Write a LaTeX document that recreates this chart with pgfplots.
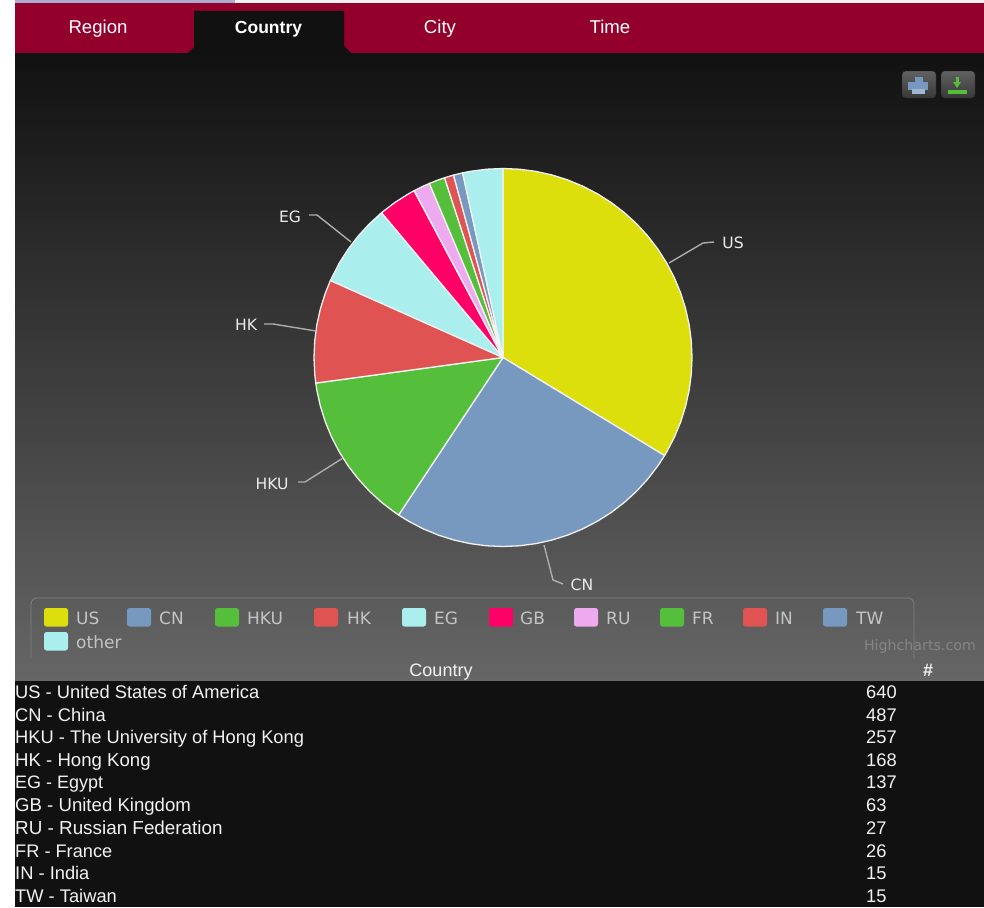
\documentclass[border=0pt]{standalone}
\usepackage{fontspec}
\setmainfont{Liberation Sans}
\newfontfamily\hc{DejaVu Sans}
\usepackage{pgfplots}
\usepackage{pgfplotstable}
\pgfplotsset{compat=1.18}
\definecolor{cUS}{HTML}{DDDF0D}
\definecolor{cCN}{HTML}{7798BF}
\definecolor{cGR}{HTML}{55BF3B}
\definecolor{cRD}{HTML}{DF5353}
\definecolor{cCY}{HTML}{AAEEEE}
\definecolor{cGB}{HTML}{FF0066}
\definecolor{cRU}{HTML}{EEAAEE}
\definecolor{band}{HTML}{92002B}
\definecolor{ink}{HTML}{111111}
\definecolor{gradtop}{HTML}{111111}
\definecolor{gradbot}{HTML}{666666}
\definecolor{legtxt}{HTML}{C4C4C4}
\definecolor{wline}{HTML}{F2F2F2}
\tikzset{lab/.style={inner sep=0pt,text=black!8,font=\hc\fontsize{15.6}{17}\selectfont}}
\pgfplotsset{
  slice/.style={data cs=polar,fill=#1,draw=wline,line width=1.3pt,line join=round},
  lead/.style={draw=black!32,line width=1.4pt,line join=round},
}
\newcommand{\tabtxt}[3]{\node[anchor=base,text=white,inner sep=0pt] at (#1,34) {\fontsize{#3}{20}\selectfont #2};}
\newcommand{\row}[5]{\node[anchor=base west,text=wline,inner sep=0pt] at (15,#1) {\fontsize{#5}{20}\selectfont #2 - #3};
  \node[anchor=base west,text=wline,inner sep=0pt] at (866,#1) {\fontsize{18.3}{20}\selectfont #4};}
\newcommand{\leg}[6]{\fill[#1,rounded corners=2.5pt] (#2,#3) rectangle (#2+24,#3+18.5);
  \node[anchor=base west,text=legtxt,inner sep=0pt] at (#4,#3+16) {\hc\fontsize{17}{18}\selectfont #5};}
\begin{document}
\begin{tikzpicture}
\useasboundingbox (0pt,0pt) rectangle (984pt,-907pt);
\begin{scope}[x=1pt,y=-1pt]
  % top strip
  \fill[white] (0,0) rectangle (984,907);
  \fill[black!5] (235,0) rectangle (984,3);
  \fill[blue!30!gray!50] (15,0) rectangle (235,3);
  % tabs
  \fill[band] (15,3) rectangle (984,54);
  \shade[top color=gradtop,bottom color=gradbot] (15,54) rectangle (984,681);
  \fill[ink] (194,11) -- (344,11) -- (344,46) -- (352,54) -- (187,54) -- (194,47) -- cycle;
  \tabtxt{98}{Region}{18.6}
  \tabtxt{268.5}{\bfseries Country}{17.5}
  \tabtxt{440}{City}{18.6}
  \tabtxt{610}{Time}{18.6}
  % export buttons
  \shade[top color=black!62,bottom color=black!78,rounded corners=3.5pt,draw=black!85] (902,71) rectangle (936,98);
  \shade[top color=black!62,bottom color=black!78,rounded corners=3.5pt,draw=black!85] (941,71) rectangle (975,98);
  \fill[cCN] (915,77) rectangle (923,83);
  \fill[cCN] (908,82) rectangle (928,90);
  \fill[cCN!70!white] (912,89) rectangle (925,94);
  \fill[cGR] (948,90) rectangle (967,94);
  \fill[cGR] (955.5,77) rectangle (958.5,83);
  \fill[cGR] (953,82) -- (961,82) -- (957,88) -- cycle;
  % legend
  \draw[black!50,rounded corners=6pt,line width=0.8pt] (31,658) -- (31,598) -- (914,598) -- (914,658);
  \leg{cUS}{44}{608}{76}{US}{}
  \leg{cCN}{127}{608}{159}{CN}{}
  \leg{cGR}{215}{608}{247}{HKU}{}
  \leg{cRD}{314}{608}{347}{HK}{}
  \leg{cCY}{402}{608}{434}{EG}{}
  \leg{cGB}{489}{608}{520}{GB}{}
  \leg{cRU}{574}{608}{606}{RU}{}
  \leg{cGR}{660}{608}{692}{FR}{}
  \leg{cRD}{743}{608}{775}{IN}{}
  \leg{cCN}{823}{608}{856}{TW}{}
  \leg{cCY}{44}{632}{76}{other}{}
  \node[anchor=base east,text=black!48,inner sep=0pt] at (976,650) {\hc\fontsize{14.2}{15}\selectfont Highcharts.com};
  % table
  \fill[ink] (15,681) rectangle (984,907);
  \node[anchor=base,text=wline,inner sep=0pt] at (441,676) {\fontsize{18}{20}\selectfont Country};
  \node[anchor=base,text=wline,inner sep=0pt] at (928,676) {\fontsize{18}{20}\selectfont\bfseries \#};
  \row{698.5}{US}{United States of America}{640}{18.3}
  \row{721}{CN}{China}{487}{18.3}
  \row{743.5}{HKU}{The University of Hong Kong}{257}{18.3}
  \row{766}{HK}{Hong Kong}{168}{18.6}
  \row{788.5}{EG}{Egypt}{137}{18}
  \row{811}{GB}{United Kingdom}{63}{18.6}
  \row{834}{RU}{Russian Federation}{27}{18.85}
  \row{857}{FR}{France}{26}{18.2}
  \row{879.5}{IN}{India}{15}{18.3}
  \row{902.5}{TW}{Taiwan}{15}{18.3}
\end{scope}
\begin{axis}[
  at={(0pt,-907pt)},anchor=south west,
  scale only axis,width=984pt,height=907pt,
  xmin=-503,xmax=481,ymin=-549.5,ymax=357.5,
  axis lines=none,clip=false,
  every axis plot/.append style={no markers},
]
% slice values: US 640, CN 487, HKU 257, HK 168, EG 137, GB 63, RU 27, FR 26, IN 15, TW 15, other 65 (of 1900)
\addplot[slice=cUS] coordinates {(90,0)(90,189)(85,189)(80,189)(75,189)(70,189)(65,189)(60,189)(55,189)(50,189)(45,189)(40,189)(35,189)(30,189)(25,189)(20,189)(15,189)(10,189)(5,189)(0,189)(-5,189)(-10,189)(-15,189)(-20,189)(-25,189)(-30,189)(-31.26,189)} --cycle;
\addplot[slice=cCN] coordinates {(-31.26,0)(-31.26,189)(-35,189)(-40,189)(-45,189)(-50,189)(-55,189)(-60,189)(-65,189)(-70,189)(-75,189)(-80,189)(-85,189)(-90,189)(-95,189)(-100,189)(-105,189)(-110,189)(-115,189)(-120,189)(-123.53,189)} --cycle;
\addplot[slice=cGR] coordinates {(-123.53,0)(-123.53,189)(-125,189)(-130,189)(-135,189)(-140,189)(-145,189)(-150,189)(-155,189)(-160,189)(-165,189)(-170,189)(-172.22,189)} --cycle;
\addplot[slice=cRD] coordinates {(-172.22,0)(-172.22,189)(-175,189)(-180,189)(-185,189)(-190,189)(-195,189)(-200,189)(-204.05,189)} --cycle;
\addplot[slice=cCY] coordinates {(-204.05,0)(-204.05,189)(-210,189)(-215,189)(-220,189)(-225,189)(-230.01,189)} --cycle;
\addplot[slice=cGB] coordinates {(-230.01,0)(-230.01,189)(-235,189)(-240,189)(-241.95,189)} --cycle;
\addplot[slice=cRU] coordinates {(-241.95,0)(-241.95,189)(-245,189)(-247.06,189)} --cycle;
\addplot[slice=cGR] coordinates {(-247.06,0)(-247.06,189)(-250,189)(-251.99,189)} --cycle;
\addplot[slice=cRD] coordinates {(-251.99,0)(-251.99,189)(-254.83,189)} --cycle;
\addplot[slice=cCN] coordinates {(-254.83,0)(-254.83,189)(-257.67,189)} --cycle;
\addplot[slice=cCY] coordinates {(-257.67,0)(-257.67,189)(-260,189)(-265,189)(-270,189)} --cycle;
% leader lines (pixel position minus pie centre)
\addplot[lead] coordinates {(166,94.5)(200,114.5)(211,115.5)};
\addplot[lead] coordinates {(41,-187.5)(50,-222.5)(60,-226.5)};
\addplot[lead] coordinates {(-160,-100.5)(-198,-124.5)(-205,-124.5)};
\addplot[lead] coordinates {(-187,26.5)(-230,33.5)(-239,33.5)};
\addplot[lead] coordinates {(-152,115.5)(-186,142.5)(-194,142.5)};
\node[lab] at (axis cs:230,114.5) {US};
\node[lab] at (axis cs:79,-227.5) {CN};
\node[lab] at (axis cs:-231,-126.5) {HKU};
\node[lab] at (axis cs:-257,32.5) {HK};
\node[lab] at (axis cs:-213,140.5) {EG};
\end{axis}
\end{tikzpicture}
\end{document}
